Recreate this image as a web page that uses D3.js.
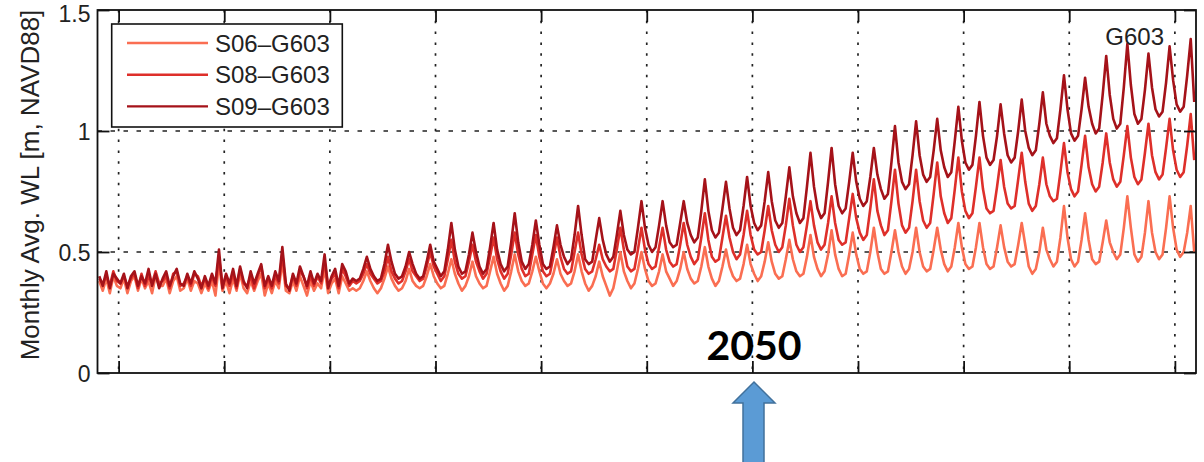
<!DOCTYPE html>
<html>
<head>
<meta charset="utf-8">
<script src="https://cdn.jsdelivr.net/npm/d3@7"></script>
<style>
  body { margin: 0; background: #fff; }
  svg { display: block; }
</style>
</head>
<body>
<svg id="chart"></svg>
<script>
// bimonthly samples, one row per year, 2019 .. 2070
const startYear = 2019;
const samplesPerYear = 6;

const xTicks = [2020, 2025, 2030, 2035, 2040, 2045, 2050, 2055, 2060, 2065, 2070];
const yTicks = [0, 0.5, 1, 1.5];
const yTickLabels = ['0', '0.5', '1', '1.5'];
const yGrid = [0.5, 1];

const seriesNames = ['S06\u2013G603', 'S08\u2013G603', 'S09\u2013G603'];
const seriesColors = ['#fa6e52', '#de2f2a', '#a51219'];

const s06 = [
  .38,.34,.39,.33,.40,.36,
  .35,.39,.33,.38,.40,.34,
  .39,.35,.38,.33,.40,.36,
  .36,.39,.33,.38,.40,.34,
  .35,.39,.34,.38,.37,.33,
  .37,.34,.38,.32,.45,.34,
  .38,.33,.39,.34,.41,.35,
  .33,.38,.34,.38,.41,.32,
  .37,.33,.38,.35,.46,.34,
  .33,.38,.34,.40,.36,.32,
  .38,.34,.37,.35,.43,.33,
  .37,.39,.33,.40,.37,.34,
  .35,.34,.35,.38,.42,.38,
  .35,.33,.35,.39,.44,.39,
  .36,.34,.35,.38,.43,.38,
  .36,.35,.36,.40,.45,.40,
  .37,.35,.36,.41,.47,.41,
  .37,.34,.36,.40,.46,.40,
  .37,.35,.36,.42,.48,.41,
  .37,.34,.36,.42,.49,.42,
  .38,.36,.37,.42,.48,.42,
  .37,.35,.37,.41,.47,.41,
  .38,.36,.37,.42,.49,.42,
  .37,.34,.36,.40,.46,.40,
  .36,.32,.35,.42,.50,.42,
  .38,.35,.37,.43,.50,.43,
  .38,.36,.37,.42,.49,.42,
  .39,.36,.38,.43,.50,.43,
  .39,.37,.38,.44,.52,.44,
  .39,.36,.38,.44,.51,.44,
  .40,.38,.39,.45,.53,.45,
  .41,.38,.40,.46,.54,.46,
  .41,.39,.40,.47,.55,.47,
  .42,.40,.41,.48,.57,.48,
  .43,.40,.42,.49,.59,.49,
  .43,.40,.41,.49,.58,.49,
  .43,.41,.42,.50,.60,.50,
  .43,.41,.42,.50,.59,.50,
  .44,.41,.43,.50,.60,.50,
  .44,.42,.43,.51,.60,.51,
  .45,.42,.44,.52,.62,.52,
  .45,.43,.44,.52,.62,.52,
  .45,.43,.44,.52,.61,.52,
  .46,.44,.45,.53,.62,.53,
  .44,.41,.43,.50,.60,.51,
  .47,.44,.46,.56,.69,.56,
  .47,.44,.46,.55,.66,.55,
  .47,.45,.46,.54,.63,.54,
  .50,.47,.49,.60,.73,.60,
  .49,.46,.48,.58,.71,.58,
  .50,.47,.49,.60,.73,.60,
  .51,.48,.50,.58,.69,.50
];

const s08 = [
  .39,.37,.40,.36,.42,.38,
  .37,.40,.36,.39,.41,.35,
  .41,.36,.40,.37,.42,.37,
  .38,.40,.35,.41,.42,.36,
  .37,.40,.36,.41,.40,.36,
  .39,.35,.40,.36,.48,.36,
  .40,.36,.41,.35,.43,.37,
  .36,.40,.35,.40,.44,.35,
  .39,.35,.40,.37,.49,.36,
  .35,.40,.36,.42,.40,.35,
  .40,.36,.40,.37,.46,.36,
  .39,.41,.35,.43,.40,.36,
  .38,.37,.38,.41,.45,.41,
  .39,.37,.38,.42,.48,.42,
  .39,.37,.38,.42,.47,.42,
  .40,.38,.39,.44,.50,.44,
  .41,.38,.40,.47,.55,.46,
  .41,.39,.40,.46,.53,.46,
  .42,.39,.41,.48,.56,.47,
  .42,.39,.41,.49,.58,.49,
  .43,.40,.41,.49,.57,.48,
  .42,.40,.41,.48,.56,.48,
  .43,.41,.42,.50,.58,.49,
  .43,.41,.42,.47,.53,.47,
  .44,.42,.43,.51,.60,.51,
  .44,.42,.43,.51,.60,.51,
  .45,.43,.44,.52,.60,.51,
  .46,.44,.45,.53,.62,.53,
  .48,.45,.47,.56,.66,.55,
  .48,.46,.47,.56,.65,.56,
  .50,.47,.49,.57,.67,.57,
  .51,.49,.50,.59,.69,.59,
  .53,.50,.52,.61,.72,.61,
  .53,.50,.52,.61,.71,.61,
  .54,.51,.53,.62,.73,.62,
  .55,.53,.54,.64,.74,.64,
  .58,.55,.57,.68,.80,.67,
  .61,.57,.59,.71,.84,.70,
  .61,.58,.60,.71,.84,.71,
  .63,.60,.62,.74,.87,.73,
  .66,.62,.64,.76,.89,.75,
  .67,.64,.66,.77,.89,.76,
  .68,.66,.67,.77,.88,.77,
  .70,.68,.69,.80,.91,.79,
  .70,.67,.69,.78,.89,.78,
  .73,.71,.72,.83,.95,.83,
  .76,.73,.75,.86,.98,.85,
  .78,.75,.77,.87,.99,.87,
  .80,.77,.79,.90,1.02,.89,
  .81,.78,.80,.91,1.03,.90,
  .83,.80,.82,.93,1.05,.92,
  .84,.81,.83,.94,1.07,.88
];

const s09 = [
  .40,.36,.42,.35,.41,.39,
  .37,.41,.35,.40,.42,.36,
  .40,.37,.43,.36,.41,.35,
  .39,.42,.36,.40,.43,.37,
  .36,.41,.37,.42,.39,.35,
  .40,.36,.41,.37,.51,.35,
  .41,.37,.43,.36,.44,.38,
  .35,.42,.37,.41,.45,.36,
  .40,.36,.42,.38,.52,.37,
  .34,.41,.37,.44,.40,.36,
  .42,.37,.41,.38,.49,.35,
  .40,.43,.36,.45,.42,.37,
  .39,.38,.39,.43,.48,.43,
  .40,.38,.39,.45,.53,.46,
  .41,.39,.40,.44,.50,.45,
  .41,.39,.40,.46,.53,.46,
  .43,.40,.42,.51,.62,.51,
  .44,.41,.42,.49,.58,.50,
  .44,.41,.43,.52,.62,.51,
  .45,.42,.44,.54,.66,.54,
  .46,.43,.45,.53,.63,.53,
  .45,.43,.44,.52,.61,.53,
  .48,.45,.47,.57,.69,.57,
  .47,.45,.46,.55,.64,.55,
  .49,.46,.48,.57,.67,.57,
  .51,.49,.50,.60,.71,.60,
  .53,.50,.52,.61,.71,.61,
  .54,.52,.53,.62,.71,.62,
  .57,.54,.56,.67,.80,.67,
  .59,.56,.58,.68,.79,.68,
  .60,.57,.59,.69,.81,.69,
  .62,.59,.61,.71,.83,.71,
  .63,.60,.62,.73,.85,.73,
  .66,.62,.64,.77,.91,.77,
  .68,.64,.66,.79,.93,.78,
  .69,.66,.68,.79,.91,.79,
  .72,.69,.71,.81,.93,.82,
  .76,.72,.74,.87,1.02,.87,
  .79,.76,.78,.90,1.04,.90,
  .82,.79,.81,.92,1.05,.92,
  .85,.81,.83,.96,1.10,.96,
  .87,.84,.86,.98,1.12,.98,
  .89,.86,.88,.98,1.11,.99,
  .90,.87,.89,1.00,1.13,1.00,
  .93,.90,.92,1.03,1.16,1.03,
  .98,.95,.97,1.09,1.23,1.09,
  .99,.96,.98,1.09,1.22,1.10,
  1.03,.99,1.01,1.15,1.31,1.15,
  1.05,1.01,1.03,1.18,1.36,1.19,
  1.07,1.03,1.05,1.17,1.32,1.18,
  1.09,1.06,1.08,1.20,1.35,1.21,
  1.11,1.08,1.10,1.23,1.38,1.12
];

const seriesValues = [s06, s08, s09];

const W = 1204, H = 462;
const plot = { left: 97.5, right: 1196, top: 10, bottom: 373 };
const font = '"Liberation Sans", Arial, Helvetica, sans-serif';

const svg = d3.select('#chart')
  .attr('width', W)
  .attr('height', H)
  .style('background', '#fff');

const x = d3.scaleLinear().domain([2019, 2071]).range([plot.left, plot.right]);
const y = d3.scaleLinear().domain([0, 1.5]).range([plot.bottom, plot.top]);

svg.append('defs').append('clipPath').attr('id', 'clip')
  .append('rect')
  .attr('x', plot.left).attr('y', plot.top)
  .attr('width', plot.right - plot.left)
  .attr('height', plot.bottom - plot.top);

// dotted grid
svg.append('g').selectAll('line')
  .data(xTicks)
  .enter().append('line')
  .attr('x1', d => x(d)).attr('x2', d => x(d))
  .attr('y1', plot.top).attr('y2', plot.bottom)
  .attr('stroke', '#222')
  .attr('stroke-width', 1.7)
  .attr('stroke-dasharray', '2.5,8.3');

svg.append('g').selectAll('line')
  .data(yGrid)
  .enter().append('line')
  .attr('x1', plot.left).attr('x2', plot.right)
  .attr('y1', d => y(d)).attr('y2', d => y(d))
  .attr('stroke', '#222')
  .attr('stroke-width', 1.7)
  .attr('stroke-dasharray', '4.5,8.5');

// series
const line = d3.line()
  .x((d, i) => x(startYear + (i + 0.5) / samplesPerYear))
  .y(d => y(d));

svg.append('g')
  .attr('clip-path', 'url(#clip)')
  .selectAll('path')
  .data(seriesValues)
  .enter().append('path')
  .attr('d', d => line(d))
  .attr('fill', 'none')
  .attr('stroke', (d, i) => seriesColors[i])
  .attr('stroke-width', 2.6)
  .attr('stroke-linejoin', 'round');

// axes, ticks pointing inward
const tickLen = 12;
const styleAxis = g => {
  g.select('.domain').remove();
  g.selectAll('.tick line').attr('stroke', '#111').attr('stroke-width', 1.8);
  g.selectAll('.tick text')
    .style('font-family', font)
    .style('font-size', '23px')
    .attr('fill', '#222');
};

svg.append('g')
  .attr('transform', `translate(0,${plot.bottom})`)
  .call(d3.axisBottom(x).tickValues(xTicks).tickSize(-tickLen).tickFormat(''))
  .call(styleAxis);

svg.append('g')
  .attr('transform', `translate(0,${plot.top})`)
  .call(d3.axisTop(x).tickValues(xTicks).tickSize(-tickLen).tickFormat(''))
  .call(styleAxis);

svg.append('g')
  .attr('transform', `translate(${plot.left},0)`)
  .call(d3.axisLeft(y).tickValues(yTicks).tickSize(-tickLen).tickPadding(7)
    .tickFormat((d, i) => yTickLabels[i]))
  .call(styleAxis)
  .call(g => g.selectAll('.tick text')
    .attr('dy', d => d === 1.5 ? '0.5em' : '0.36em'));

svg.append('g')
  .attr('transform', `translate(${plot.right},0)`)
  .call(d3.axisRight(y).tickValues(yTicks).tickSize(-tickLen).tickFormat(''))
  .call(styleAxis);

svg.append('rect')
  .attr('x', plot.left).attr('y', plot.top)
  .attr('width', plot.right - plot.left)
  .attr('height', plot.bottom - plot.top)
  .attr('fill', 'none')
  .attr('stroke', '#111')
  .attr('stroke-width', 1.8);

// y label
svg.append('text')
  .attr('transform', 'translate(39,185) rotate(-90)')
  .attr('text-anchor', 'middle')
  .style('font-family', font)
  .style('font-size', '26px')
  .attr('fill', '#222')
  .text('Monthly Avg. WL [m, NAVD88]');

// station name
svg.append('text')
  .attr('x', 1164).attr('y', 45)
  .attr('text-anchor', 'end')
  .style('font-family', font)
  .style('font-size', '24px')
  .attr('fill', '#222')
  .text('G603');

// legend
const legend = svg.append('g');
legend.append('rect')
  .attr('x', 111.7).attr('y', 24)
  .attr('width', 230.6).attr('height', 103)
  .attr('fill', '#fff')
  .attr('stroke', '#111')
  .attr('stroke-width', 1.6);

const items = legend.selectAll('.item')
  .data(seriesNames)
  .enter().append('g')
  .attr('class', 'item')
  .attr('transform', (d, i) => `translate(0,${43 + i * 31.7})`);

items.append('line')
  .attr('x1', 127).attr('x2', 208)
  .attr('y1', 0).attr('y2', 0)
  .attr('stroke', (d, i) => seriesColors[i])
  .attr('stroke-width', 2.4);

items.append('text')
  .attr('x', 215).attr('y', 8.5)
  .style('font-family', font)
  .style('font-size', '24px')
  .attr('fill', '#222')
  .text(d => d);

// annotation
svg.append('text')
  .attr('x', 754).attr('y', 360)
  .attr('text-anchor', 'middle')
  .style('font-family', 'Lato, "Open Sans", sans-serif')
  .style('font-weight', 'bold')
  .style('font-size', '41px')
  .attr('fill', '#000')
  .text('2050');

svg.append('path')
  .attr('d', 'M754,382 L775,403 L764,403 L764,470 L743,470 L743,403 L733,403 Z')
  .attr('fill', '#5b9bd5')
  .attr('stroke', '#41719c')
  .attr('stroke-width', 1.5);
</script>
</body>
</html>
